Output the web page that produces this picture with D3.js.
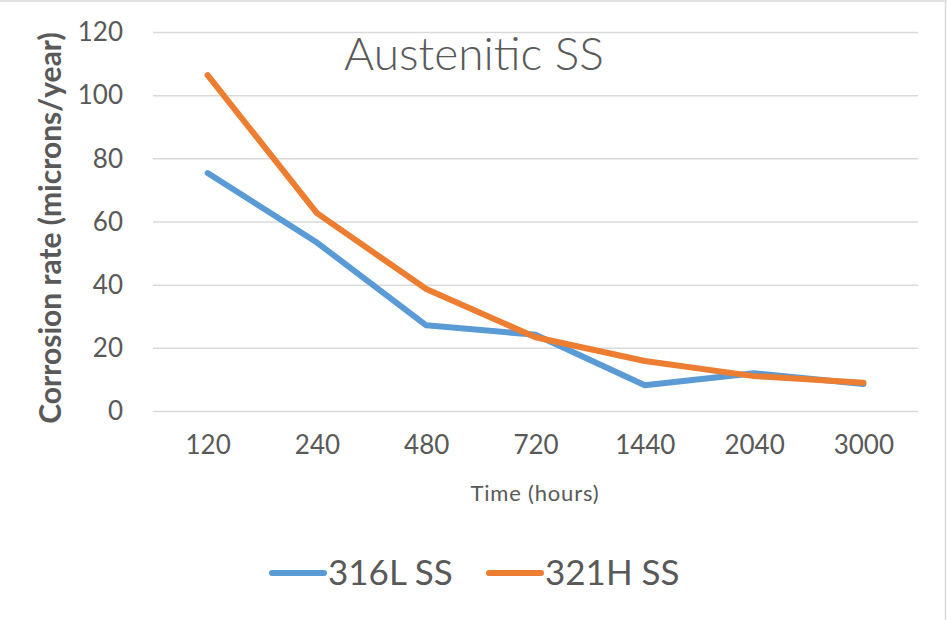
<!DOCTYPE html>
<html>
<head>
<meta charset="utf-8">
<script src="https://cdn.jsdelivr.net/npm/d3@7"></script>
<style>
  html, body { margin: 0; padding: 0; background: #ffffff; }
  svg { display: block; }
  text { font-family: Lato, "Open Sans", sans-serif; fill: #595959; }
</style>
</head>
<body>
<script>
// Corrosion rate of two austenitic stainless steels over exposure time
const timeLabels = ["120", "240", "480", "720", "1440", "2040", "3000"];
const ss316L = [75.5, 53.5, 27.3, 24.3, 8.3, 12.1, 8.7];
const ss321H = [106.5, 62.8, 38.8, 23.5, 16.0, 11.2, 9.1];
const yTicks = [0, 20, 40, 60, 80, 100, 120];

const seriesNames = ["316L SS", "321H SS"];
const seriesColors = ["#5b9bd5", "#ed7d31"];
const series = [ss316L, ss321H];

const W = 947, H = 620;
const plot = { left: 153, right: 918, top: 32.5, bottom: 411.5 };

const svg = d3.select("body").append("svg")
  .attr("width", W).attr("height", H);

// chart frame edges
svg.append("line").attr("x1", 0).attr("x2", W).attr("y1", 1).attr("y2", 1)
  .attr("stroke", "#d9d9d9").attr("stroke-width", 1.5);
svg.append("line").attr("x1", 945.5).attr("x2", 945.5).attr("y1", 1).attr("y2", H)
  .attr("stroke", "#d9d9d9").attr("stroke-width", 1.5);

const x = d3.scalePoint()
  .domain(timeLabels)
  .range([plot.left, plot.right])
  .padding(0.5);

const y = d3.scaleLinear()
  .domain([0, 120])
  .range([plot.bottom, plot.top]);

// horizontal gridlines
svg.append("g")
  .selectAll("line")
  .data(yTicks)
  .join("line")
  .attr("x1", plot.left).attr("x2", plot.right)
  .attr("y1", d => y(d)).attr("y2", d => y(d))
  .attr("stroke", "#d9d9d9").attr("stroke-width", 1.5);

// y axis labels
const yAxis = d3.axisLeft(y).tickValues(yTicks).tickSize(0).tickPadding(0);
const gy = svg.append("g").attr("transform", `translate(${123},0)`).call(yAxis);
gy.select(".domain").remove();
gy.selectAll("text")
  .attr("font-size", 26).attr("fill", "#595959")
  .style("font-family", "Lato, sans-serif");

// x axis labels
const xAxis = d3.axisBottom(x).tickSize(0).tickPadding(0);
const gx = svg.append("g").attr("transform", `translate(0,${436})`).call(xAxis);
gx.select(".domain").remove();
gx.selectAll("text")
  .attr("font-size", 26).attr("fill", "#595959")
  .style("font-family", "Lato, sans-serif");

// series lines
const line = d3.line()
  .x((d, i) => x(timeLabels[i]))
  .y(d => y(d));

svg.append("g")
  .selectAll("path")
  .data(series)
  .join("path")
  .attr("d", d => line(d))
  .attr("fill", "none")
  .attr("stroke", (d, i) => seriesColors[i])
  .attr("stroke-width", 6)
  .attr("stroke-linejoin", "round")
  .attr("stroke-linecap", "round");

// chart title
svg.append("text")
  .attr("x", 474).attr("y", 70)
  .attr("text-anchor", "middle")
  .attr("font-size", 46)
  .attr("font-weight", 300)
  .text("Austenitic SS");

// axis titles
svg.append("text")
  .attr("x", 535).attr("y", 501)
  .attr("text-anchor", "middle")
  .attr("font-size", 22)
  .attr("letter-spacing", 0.8)
  .text("Time (hours)");

svg.append("text")
  .attr("transform", `translate(61,${(plot.top + plot.bottom) / 2 + 6}) rotate(-90)`)
  .attr("text-anchor", "middle")
  .attr("font-size", 30)
  .attr("font-weight", 700)
  .text("Corrosion rate (microns/year)");

// legend
const legendItems = [
  { name: seriesNames[0], color: seriesColors[0], x0: 272 },
  { name: seriesNames[1], color: seriesColors[1], x0: 489 }
];
const lg = svg.append("g");
legendItems.forEach(item => {
  lg.append("line")
    .attr("x1", item.x0).attr("x2", item.x0 + 52)
    .attr("y1", 573).attr("y2", 573)
    .attr("stroke", item.color).attr("stroke-width", 6)
    .attr("stroke-linecap", "round");
  lg.append("text")
    .attr("x", item.x0 + 56).attr("y", 585)
    .attr("font-size", 35)
    .text(item.name);
});
</script>
</body>
</html>
